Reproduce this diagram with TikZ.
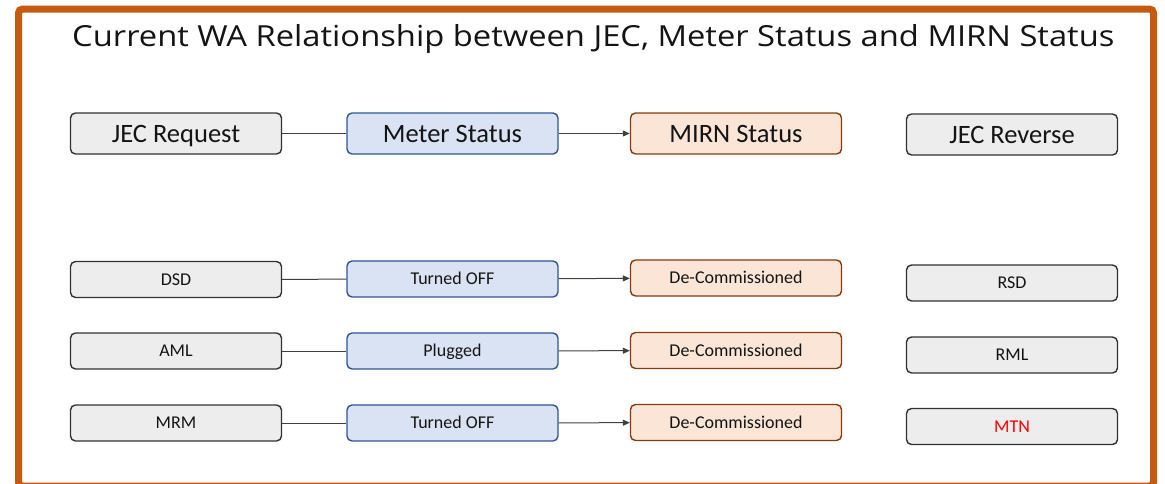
\documentclass[tikz,border=0pt]{standalone}
\usepackage{fontspec}
\setmainfont{Carlito}
\newfontfamily\titlefont{Open Sans}
\usetikzlibrary{arrows.meta}
\definecolor{frameorange}{RGB}{197,90,17}
\definecolor{greyfill}{RGB}{237,237,237}
\definecolor{greyline}{RGB}{50,50,50}
\definecolor{bluefill}{RGB}{218,227,243}
\definecolor{blueline}{RGB}{47,85,151}
\definecolor{peachfill}{RGB}{251,229,214}
\definecolor{brownline}{RGB}{132,60,12}
\definecolor{textdark}{RGB}{20,20,20}
\definecolor{linkgrey}{RGB}{64,64,64}
\tikzset{
  box/.style={draw, rounded corners=5pt, line width=1.4pt, minimum width=211pt,
    inner sep=0pt, text=textdark},
  hdr/.style={minimum height=41pt, text height=17pt, text depth=0pt,
    font=\fontsize{26.5}{30}\selectfont},
  row/.style={minimum height=36pt, text height=11.6pt, text depth=0pt,
    font=\fontsize{18}{21}\selectfont},
  jec/.style={box, fill=greyfill, draw=greyline},
  meter/.style={box, fill=bluefill, draw=blueline},
  mirn/.style={box, fill=peachfill, draw=brownline},
  link/.style={draw=linkgrey, line width=1pt},
  arrowlink/.style={link, -{Triangle[length=7pt,width=6pt]}}
}
\begin{document}
\begin{tikzpicture}[x=1pt, y=-1pt]
\useasboundingbox (0,0) rectangle (1165,483);
% outer frame
\draw[frameorange, line width=7pt, rounded corners=4pt] (18.5,9) rectangle (1153.5,486);
% title
\node[anchor=base west, inner sep=0pt, text=textdark, xscale=1.128,
  font=\titlefont\fontsize{29}{32}\selectfont]
  (title) at (72,46) {Current WA Relationship between JEC, Meter Status and MIRN Status};

% header row
\node[jec, hdr]   (jh) at (176,133.5)   {JEC Request};
\node[meter, hdr] (mh) at (452.5,133.5) {Meter Status};
\node[mirn, hdr]  (sh) at (736,133.5)   {MIRN Status};
\node[jec, hdr]   (rh) at (1012,134.5)  {JEC Reverse};

% row 1
\node[jec, row]   (j1) at (176,279.5)   {DSD};
\node[meter, row] (m1) at (452.5,279)   {Turned OFF};
\node[mirn, row]  (s1) at (736,278)     {De-Commissioned};
\node[jec, row]   (r1) at (1012,283)    {RSD};

% row 2
\node[jec, row]   (j2) at (176,351)     {AML};
\node[meter, row] (m2) at (452.5,351)   {Plugged};
\node[mirn, row]  (s2) at (736,350.5)   {De-Commissioned};
\node[jec, row]   (r2) at (1012,355)    {RML};

% row 3
\node[jec, row]   (j3) at (176,423)     {MRM};
\node[meter, row] (m3) at (452.5,423)   {Turned OFF};
\node[mirn, row]  (s3) at (736,422.5)   {De-Commissioned};
\node[jec, row]   (r3) at (1012,426.5)  {\textcolor{red}{MTN}};

% connectors
\foreach \a/\b/\c in {jh/mh/sh, j1/m1/s1, j2/m2/s2, j3/m3/s3} {
  \draw[link] (\a) -- (\b);
  \draw[arrowlink] (\b) -- (\c);
}
\end{tikzpicture}
\end{document}
